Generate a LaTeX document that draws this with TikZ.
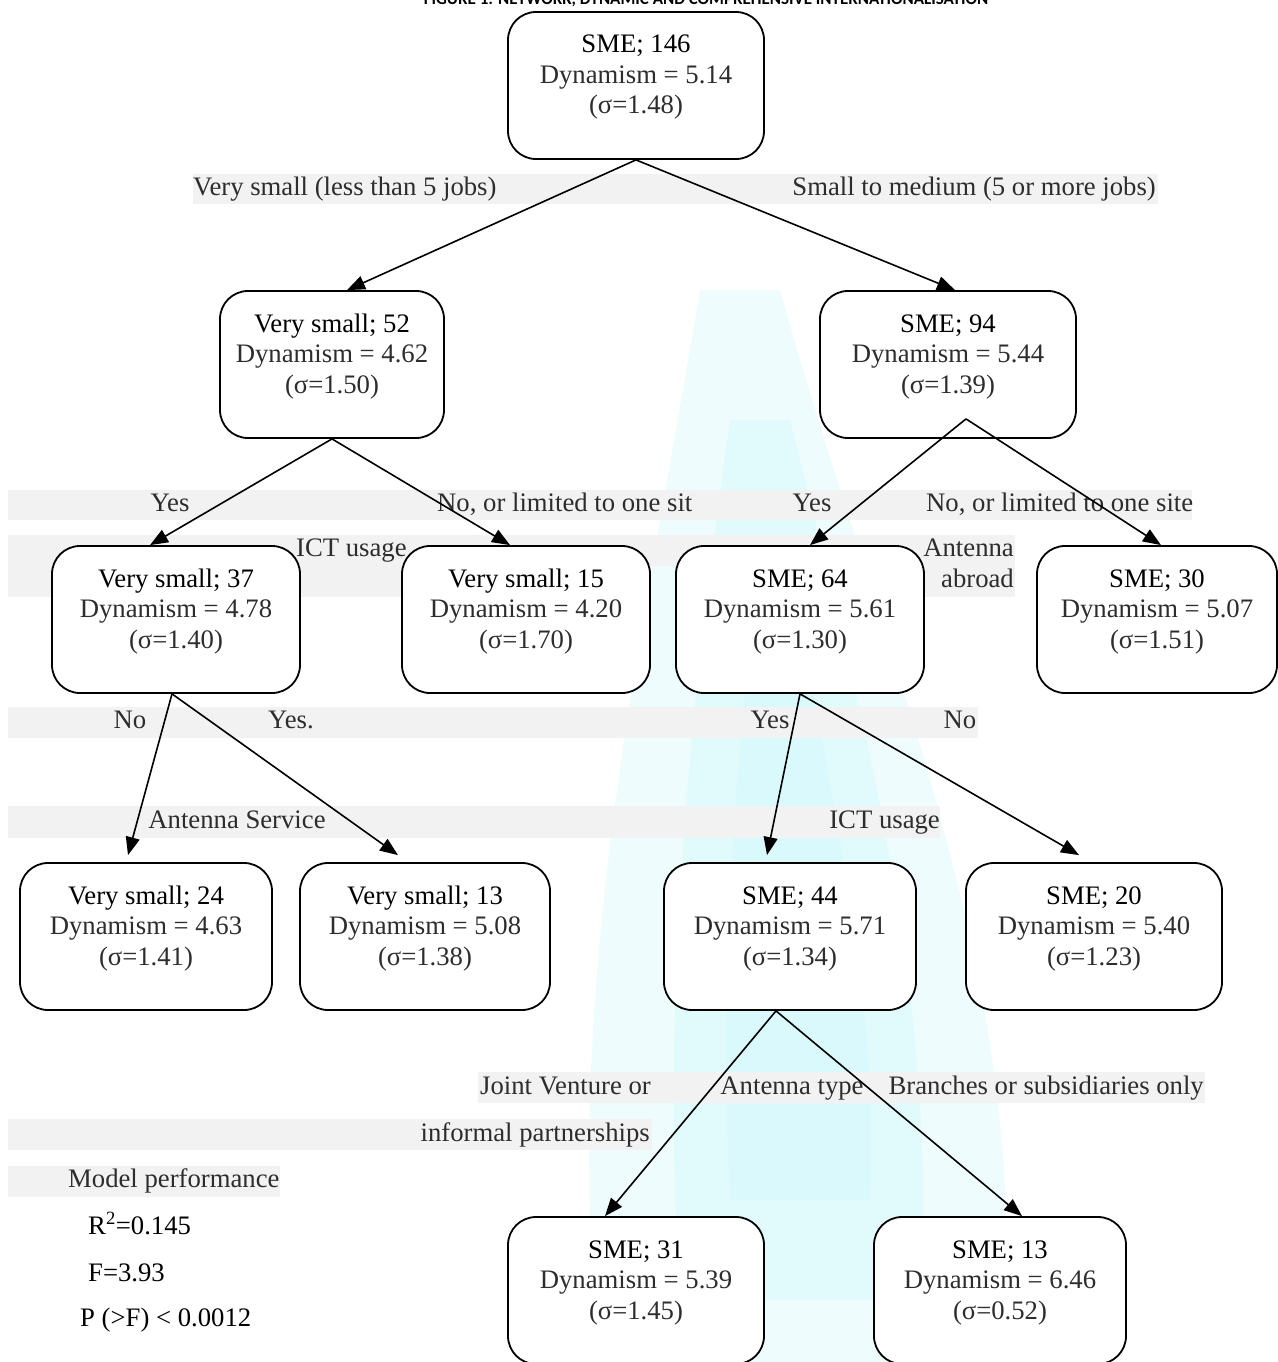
\documentclass[tikz,border=0pt]{standalone}
\usepackage{fontspec}
\setmainfont{Liberation Serif}
\newfontfamily\titlefont{Carlito}
\usetikzlibrary{arrows.meta}
\definecolor{bandgray}{RGB}{242,242,242}
\definecolor{txtgray}{RGB}{45,45,45}
\definecolor{wmcyan}{RGB}{200,246,250}
\newcommand\treebox[7]{%
  \node[box,minimum width=#4pt] (#1) at (#2,#3+73.5) {};
  \node[ntext] (#1t) at ([yshift=8pt]#1.center) {#5\\\textcolor{txtgray}{Dynamism = #6}\\\textcolor{txtgray}{(σ=#7)}};
}
\begin{document}
\begin{tikzpicture}[x=1pt,y=-1pt,
  box/.style={draw=black,line width=1.8pt,rounded corners=28pt,fill=white,minimum height=147pt,inner sep=0pt},
  ntext/.style={align=center,inner sep=0pt,font=\fontsize{26.7}{30.5}\selectfont},
  lbl/.style={inner sep=0pt,text=txtgray,font=\fontsize{26.7}{30.5}\selectfont,text height=18pt,text depth=6pt},
  band/.style={fill=bandgray},
  arr/.style={line width=1.6pt,-{Triangle[length=18pt,width=14pt]}}]
\useasboundingbox (0,0) rectangle (1277,1362);
% faint watermark
\fill[wmcyan,opacity=0.3] (700,290) .. controls (640,650) and (560,1000) .. (600,1362) -- (1000,1362) .. controls (1040,1000) and (880,650) .. (780,290) -- cycle;
\fill[wmcyan,opacity=0.35] (730,420) .. controls (690,700) and (660,1000) .. (680,1300) -- (920,1300) .. controls (940,1000) and (860,700) .. (790,420) -- cycle;
\fill[wmcyan,opacity=0.3] (760,560) .. controls (730,800) and (720,1000) .. (730,1200) -- (870,1200) .. controls (880,1000) and (830,800) .. (790,560) -- cycle;
% title (cut off at the top edge, as in the source)
\node[anchor=base,inner sep=0pt,font=\titlefont\bfseries\fontsize{17}{20}\selectfont] (title) at (706,5) {FIGURE 1: NETWORK, DYNAMIC AND COMPREHENSIVE INTERNATIONALISATION};
% label bands
\fill[band] (193,174) rectangle (1158,204);
\fill[band] (8,490) rectangle (1192,520);
\fill[band] (8,535) rectangle (1015,566);
\fill[band] (8,566) rectangle (405,597);
\fill[band] (925,566) rectangle (1015,597);
\fill[band] (8,707) rectangle (978,738);
\fill[band] (8,806) rectangle (940,838);
\fill[band] (478,1072) rectangle (1205,1103);
\fill[band] (8,1119) rectangle (652,1150);
\fill[band] (8,1166) rectangle (280,1197);
% labels
\node[lbl,anchor=west] (la) at (193,189) {Very small (less than 5 jobs)};
\node[lbl,anchor=east] (lb) at (1156,189) {Small to medium (5 or more jobs)};
\node[lbl] (lc) at (170,505) {Yes};
\node[lbl,anchor=west] (ld) at (437,505) {No, or limited to one sit};
\node[lbl] (le) at (812,505) {Yes};
\node[lbl,anchor=west] (lf) at (926,505) {No, or limited to one site};
\node[lbl,anchor=west] (lg) at (296,550) {ICT usage};
\node[lbl,anchor=east] (lh) at (1014,550) {Antenna};
\node[lbl,anchor=east] (li) at (1014,581) {abroad};
\node[lbl] (lj) at (130,722) {No};
\node[lbl,anchor=west] (lk) at (268,722) {Yes.};
\node[lbl] (ll) at (770,722) {Yes};
\node[lbl] (lm) at (960,722) {No};
\node[lbl] (ln) at (237,822) {Antenna Service};
\node[lbl,anchor=east] (lo) at (940,822) {ICT usage};
\node[lbl,anchor=west] (lp) at (480,1088) {Joint Venture or};
\node[lbl] (lq) at (792,1088) {Antenna type};
\node[lbl,anchor=east] (lr) at (1204,1088) {Branches or subsidiaries only};
\node[lbl,anchor=east] (ls) at (650,1135) {informal partnerships};
\node[lbl,anchor=west] (lt) at (68,1181) {Model performance};
\node[lbl,anchor=west,text=black] (lu) at (88,1228) {R\textsuperscript{2}=0.145};
\node[lbl,anchor=west,text=black] (lv) at (88,1275) {F=3.93};
\node[lbl,anchor=west,text=black] (lw) at (80,1320) {P (>F) < 0.0012};
% boxes
\treebox{root}{636}{12}{256}{SME; 146}{5.14}{1.48}
\treebox{nA}{332}{291}{224}{Very small; 52}{4.62}{1.50}
\treebox{nB}{948}{291}{256}{SME; 94}{5.44}{1.39}
\treebox{nC}{176}{546}{248}{Very small; 37}{4.78}{1.40}
\treebox{nD}{526}{546}{248}{Very small; 15}{4.20}{1.70}
\treebox{nE}{800}{546}{248}{SME; 64}{5.61}{1.30}
\treebox{nF}{1157}{546}{240}{SME; 30}{5.07}{1.51}
\treebox{nG}{146}{863}{252}{Very small; 24}{4.63}{1.41}
\treebox{nH}{425}{863}{250}{Very small; 13}{5.08}{1.38}
\treebox{nI}{790}{863}{252}{SME; 44}{5.71}{1.34}
\treebox{nJ}{1094}{863}{256}{SME; 20}{5.40}{1.23}
\treebox{nK}{636}{1217}{256}{SME; 31}{5.39}{1.45}
\treebox{nL}{1000}{1217}{252}{SME; 13}{6.46}{0.52}
% connectors
\draw[arr] (root.south) -- ([xshift=15pt]nA.north);
\draw[arr] (root.south) -- ([xshift=7pt]nB.north);
\draw[arr] (nA.south) -- ([xshift=-26pt]nC.north);
\draw[arr] (nA.south) -- ([xshift=-16pt]nD.north);
\draw[arr] ([xshift=18pt,yshift=20pt]nB.south) -- ([xshift=10pt]nE.north);
\draw[arr] ([xshift=18pt,yshift=20pt]nB.south) -- ([xshift=4pt]nF.north);
\draw[arr] ([xshift=-4pt]nC.south) -- ([xshift=-18pt,yshift=7pt]nG.north);
\draw[arr] ([xshift=-4pt]nC.south) -- ([xshift=-27pt,yshift=7pt]nH.north);
\draw[arr] (nE.south) -- ([xshift=-23pt,yshift=7pt]nI.north);
\draw[arr] (nE.south) -- ([xshift=-15pt,yshift=7pt]nJ.north);
\draw[arr] ([xshift=-14pt]nI.south) -- ([xshift=-31pt]nK.north);
\draw[arr] ([xshift=-14pt]nI.south) -- ([xshift=22pt]nL.north);
\end{tikzpicture}
\end{document}
